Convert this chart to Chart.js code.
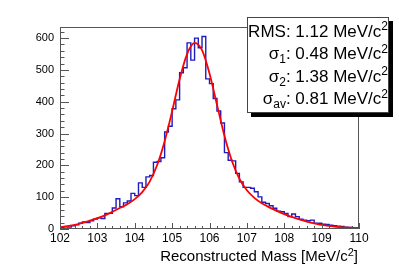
<!DOCTYPE html>
<html><head><meta charset="utf-8">
<script src="https://cdn.jsdelivr.net/npm/chart.js@4.4.1/dist/chart.umd.min.js"></script>
<style>html,body{margin:0;padding:0;background:#fff;overflow:hidden}canvas{display:block}</style>
</head><body>
<canvas id="c" width="399" height="270"></canvas>
<script>
// ---- data ----
const xMin = 102, xMax = 110, binWidth = 0.1;
const counts = [5, 7, 6, 10, 13, 18, 22, 20, 26, 31,
                35, 33, 49, 49, 66, 95, 70, 82, 88, 112,
                105, 145, 131, 164, 168, 210, 212, 224, 305, 323,
                378, 406, 491, 507, 585, 531, 600, 570, 605, 472,
                457, 410, 371, 333, 240, 216, 214, 175, 148, 131,
                131, 128, 117, 101, 84, 80, 73, 65, 56, 54,
                49, 39, 47, 39, 31, 28, 26, 28, 18, 18,
                15, 14, 12, 10, 9, 8, 6, 5, 4, 3];
const fitX = [102.0, 102.2, 102.4, 102.6, 102.8, 103.0, 103.2, 103.4, 103.6, 103.8,
              104.0, 104.2, 104.4, 104.6, 104.8, 105.0, 105.2, 105.4, 105.6, 105.8,
              106.0, 106.2, 106.4, 106.6, 106.8, 107.0, 107.2, 107.4, 107.6, 107.8,
              108.0, 108.2, 108.4, 108.6, 108.8, 109.0, 109.2, 109.4, 109.6, 109.8, 110.0];
const fitY = [6, 9, 13, 19, 26, 34, 43, 54, 66, 78,
              94, 116, 149, 201, 276, 370, 471, 550, 585, 562,
              489, 391, 293, 214, 158, 122, 98, 81, 68, 57,
              47, 38, 30, 23, 18, 13, 10, 7, 5, 4, 3];
const xTicks = [102, 103, 104, 105, 106, 107, 108, 109, 110];
const yTicks = [0, 100, 200, 300, 400, 500, 600];
const yMax = 635;
const xTitle = [{t: 'Reconstructed Mass [MeV/c'}, {t: '2', sup: true}, {t: ']'}];
const statLines = [
  [{t: 'RMS: 1.12 MeV/c'}, {t: '2', sup: true}],
  [{t: 'σ'}, {t: '1', sub: true}, {t: ': 0.48 MeV/c'}, {t: '2', sup: true}],
  [{t: 'σ'}, {t: '2', sub: true}, {t: ': 1.38 MeV/c'}, {t: '2', sup: true}],
  [{t: 'σ'}, {t: 'av', sub: true}, {t: ': 0.81 MeV/c'}, {t: '2', sup: true}]
];

// ---- build datasets ----
const histPts = [{x: xMin, y: 0}];
counts.forEach((v, i) => histPts.push({x: xMin + i * binWidth, y: v}));
histPts.push({x: xMax, y: counts[counts.length - 1]});
histPts.push({x: xMax, y: 0});
const fitPts = fitX.map((x, i) => ({x, y: fitY[i]}));

const FONT = '"Liberation Sans", Arial, Helvetica, sans-serif';

function drawRich(ctx, segs, xRight, baseline, size) {
  const subSize = Math.round(size * 0.7);
  const parts = segs.map(s => {
    const fs = (s.sup || s.sub) ? subSize : size;
    ctx.font = fs + 'px ' + FONT;
    return {s, fs, w: ctx.measureText(s.t).width};
  });
  const total = parts.reduce((a, p) => a + p.w, 0);
  let x = xRight - total;
  ctx.textAlign = 'left';
  ctx.textBaseline = 'alphabetic';
  parts.forEach(p => {
    ctx.font = p.fs + 'px ' + FONT;
    let dy = 0;
    if (p.s.sup) dy = -size * 0.36;
    if (p.s.sub) dy = size * 0.26;
    ctx.fillText(p.s.t, x, baseline + dy);
    x += p.w;
  });
}

const rootDecor = {
  id: 'rootDecor',
  afterDraw(chart) {
    const ctx = chart.ctx;
    const a = chart.chartArea;
    const xs = chart.scales.x, ys = chart.scales.y;
    ctx.save();
    // frame
    ctx.strokeStyle = '#555';
    ctx.lineWidth = 1;
    ctx.strokeRect(Math.round(a.left) + 0.5, Math.round(a.top) + 0.5,
                   Math.round(a.right - a.left) - 1, Math.round(a.bottom - a.top) - 1);
    // y ticks (inward)
    ctx.beginPath();
    for (let v = 0; v <= yMax; v += 20) {
      const p = Math.round(ys.getPixelForValue(v)) + 0.5;
      const len = (v % 100 === 0) ? 9 : 4.5;
      ctx.moveTo(a.left, p); ctx.lineTo(a.left + len, p);
    }
    // x ticks (inward)
    for (let k = 0; k <= 40; k++) {
      const v = xMin + k * 0.2;
      const p = Math.round(xs.getPixelForValue(v)) + 0.5;
      const len = (k % 5 === 0) ? 6 : 3;
      ctx.moveTo(p, a.bottom); ctx.lineTo(p, a.bottom - len);
    }
    ctx.stroke();
    // x title
    ctx.fillStyle = '#000';
    drawRich(ctx, xTitle, 358, 261, 15);
    // stats box
    const bx = 247, by = 17, bw = 142, bh = 96;
    ctx.fillStyle = '#000';
    ctx.fillRect(bx + 4, by + 4, bw, bh);
    ctx.fillStyle = '#fff';
    ctx.fillRect(bx, by, bw, bh);
    ctx.strokeStyle = '#444';
    ctx.strokeRect(bx + 0.5, by + 0.5, bw - 1, bh - 1);
    ctx.fillStyle = '#000';
    const baselines = [36.5, 59, 81.5, 104];
    statLines.forEach((segs, i) => drawRich(ctx, segs, 388, baselines[i], 17));
    ctx.restore();
  }
};

new Chart(document.getElementById('c'), {
  type: 'line',
  data: {
    datasets: [
      {data: fitPts, borderColor: '#ff0000', borderWidth: 1.8, pointRadius: 0,
       cubicInterpolationMode: 'monotone', fill: false, order: 0},
      {data: histPts, borderColor: '#1c1cc0', borderWidth: 1.4, pointRadius: 0,
       stepped: 'before', fill: false, order: 1}
    ]
  },
  options: {
    responsive: false,
    devicePixelRatio: 1,
    animation: false,
    layout: {padding: {top: 27, right: 40, left: 0, bottom: 0}},
    plugins: {legend: {display: false}, tooltip: {enabled: false}},
    scales: {
      x: {
        type: 'linear', min: xMin, max: xMax,
        grid: {display: false, drawTicks: false},
        border: {display: false},
        afterBuildTicks: s => { s.ticks = xTicks.map(v => ({value: v})); },
        afterFit: s => { s.height = 41; },
        ticks: {color: '#000', font: {family: FONT, size: 12}, padding: 2,
                maxRotation: 0, autoSkip: false, callback: v => String(v)}
      },
      y: {
        type: 'linear', min: 0, max: yMax,
        grid: {display: false, drawTicks: false},
        border: {display: false},
        afterBuildTicks: s => { s.ticks = yTicks.map(v => ({value: v})); },
        afterFit: s => { s.width = 60; },
        ticks: {color: '#000', font: {family: FONT, size: 11}, padding: 6,
                autoSkip: false, callback: v => String(v)}
      }
    }
  },
  plugins: [rootDecor]
});
</script>
</body></html>
